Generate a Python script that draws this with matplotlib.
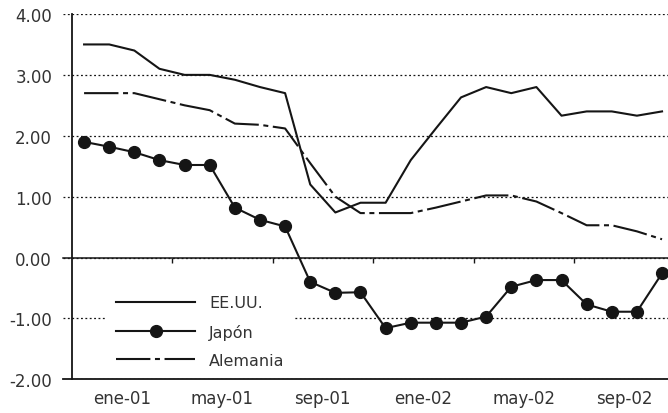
import matplotlib
matplotlib.use('Agg')
import matplotlib.pyplot as plt

# Datos mensuales (ene-01 ... dic-02)
meses = ['ene-01', 'feb-01', 'mar-01', 'abr-01', 'may-01', 'jun-01', 'jul-01', 'ago-01',
         'sep-01', 'oct-01', 'nov-01', 'dic-01', 'ene-02', 'feb-02', 'mar-02', 'abr-02',
         'may-02', 'jun-02', 'jul-02', 'ago-02', 'sep-02', 'oct-02', 'nov-02', 'dic-02']
eeuu = [3.5, 3.5, 3.4, 3.1, 3.0, 3.0, 2.92, 2.8, 2.7, 1.2, 0.74, 0.9,
        0.9, 1.6, 2.12, 2.63, 2.8, 2.7, 2.8, 2.33, 2.4, 2.4, 2.33, 2.4]
japon = [1.9, 1.82, 1.73, 1.6, 1.52, 1.52, 0.82, 0.62, 0.51, -0.4, -0.58, -0.57,
         -1.16, -1.07, -1.07, -1.07, -0.97, -0.48, -0.37, -0.37, -0.77, -0.89, -0.89, -0.26]
alemania = [2.7, 2.7, 2.7, 2.6, 2.5, 2.42, 2.2, 2.18, 2.12, 1.55, 1.0, 0.73,
            0.73, 0.73, 0.82, 0.92, 1.02, 1.02, 0.92, 0.73, 0.53, 0.53, 0.43, 0.3]
yticks = [-2, -1, 0, 1, 2, 3, 4]
ylabels = ['-2.00', '-1.00', '0.00', '1.00', '2.00', '3.00', '4.00']

plt.rcParams['font.family'] = 'DejaVu Sans'
txt = '#333333'
ink = '#151515'

fig = plt.figure(figsize=(6.68, 4.14), dpi=100)
# axes start a bit left of the y spine so the grid lines stick out like the original
ax = fig.add_axes([63 / 668, 33.7 / 414, 611.6 / 668, 365.3 / 414])
x = list(range(len(meses)))
ax.set_xlim(-0.5 - 8.5 / 25.09, 23.5)
ax.set_ylim(-2, 4)

ax.plot(x, eeuu, color=ink, lw=1.5, label='EE.UU.')
ax.plot(x, japon, color=ink, lw=1.5, marker='o', markersize=8.5, label='Japón')
ax.plot(x, alemania, color=ink, lw=1.5, linestyle=(0, (16.5, 2.2, 2.4, 2.2)), label='Alemania')

# grid
ax.set_yticks(yticks)
ax.set_yticklabels(ylabels)
ax.yaxis.grid(True, color=ink, linestyle=(0, (1.5, 2)), lw=0.9)
ax.set_axisbelow(True)
ax.tick_params(axis='y', length=0, pad=14, labelsize=12, labelcolor=txt)

# labels centred on groups of 4 months, no tick marks
ax.set_xticks([i + 1.5 for i in range(0, 24, 4)])
ax.set_xticklabels(meses[::4])
ax.tick_params(axis='x', length=0, pad=7, labelsize=12, labelcolor=txt)

for s in ['top', 'right']:
    ax.spines[s].set_visible(False)
ax.spines['left'].set_position(('data', -0.5))
ax.spines['left'].set_color(ink)
ax.spines['bottom'].set_color(ink)
ax.spines['left'].set_linewidth(1.3)
ax.spines['bottom'].set_linewidth(1.3)

# zero line with the group tick marks
sec = ax.secondary_xaxis(1 / 3)
sec.set_xticks([i - 0.5 for i in range(4, 24, 4)])
sec.set_xticklabels([])
sec.tick_params(axis='x', direction='out', length=3.5, width=1, color=ink)
sec.spines['bottom'].set_color(ink)
sec.spines['bottom'].set_linewidth(1.1)

leg = ax.legend(loc='upper left', bbox_to_anchor=(0.160, 0.307), bbox_transform=fig.transFigure,
                borderaxespad=0, fontsize=11.5, handlelength=4.9, handletextpad=0.9,
                labelspacing=0.82, borderpad=0.6, frameon=True, fancybox=False)
leg.get_frame().set_facecolor('white')
leg.get_frame().set_edgecolor('none')
leg.get_frame().set_alpha(1)
for t in leg.get_texts():
    t.set_color(txt)

fig.savefig('out.png', dpi=100)
